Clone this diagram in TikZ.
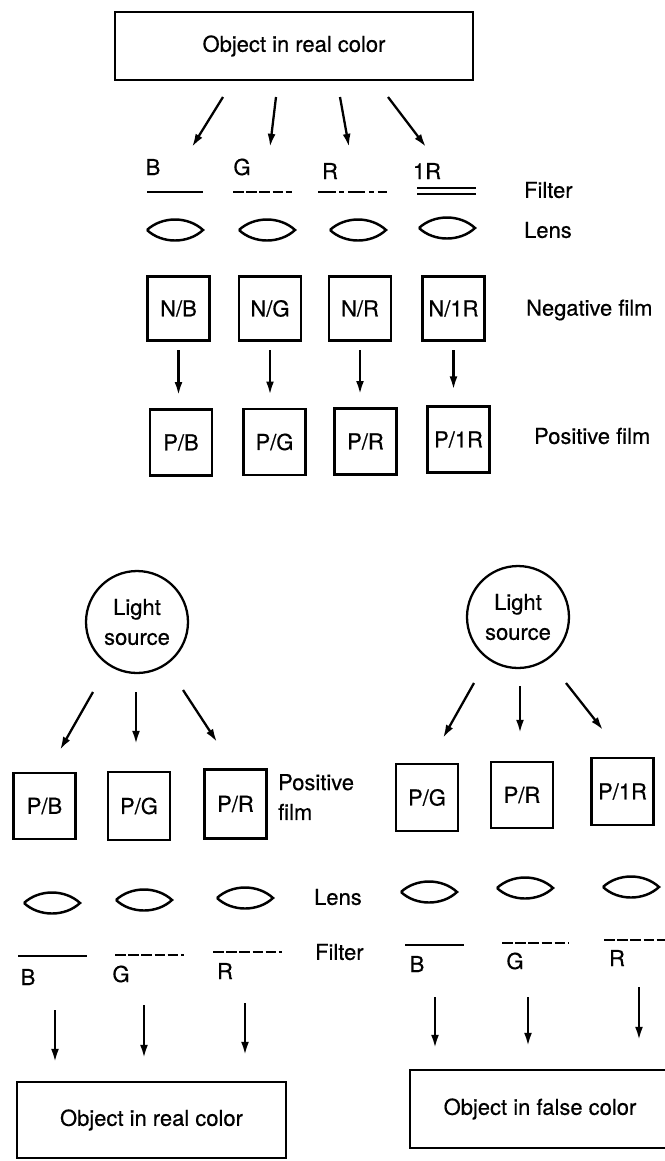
\documentclass[tikz,border=0pt]{standalone}
\usepackage{fontspec}
\setmainfont{TeX Gyre Heros}[FakeBold=0.5]
\usetikzlibrary{arrows.meta}
\def\lens(#1,#2){\draw[lensline] (#1-28,#2) .. controls (#1-13,#2-14) and (#1+13,#2-14) .. (#1+28,#2) .. controls (#1+13,#2+14) and (#1-13,#2+14) .. (#1-28,#2);}

\begin{document}
\begin{tikzpicture}[x=0.02cm, y=-0.02cm, line width=1.3pt,
	every node/.style={font=\fontsize{12.5}{17}\selectfont},
	arr/.style={-{Latex[length=7.5pt,width=4.5pt]}},
	film/.style={draw, minimum width=1.24cm, minimum height=1.28cm, inner sep=0pt},
	objbox/.style={draw, inner sep=0pt},
	lamp/.style={draw, circle, minimum size=2.04cm, inner sep=0pt, align=center},
	lensline/.style={line width=1.4pt},
	tag/.style={anchor=west, align=left, inner sep=0pt}]
		\useasboundingbox (0,0) rectangle (665,1161);
		%%%%% TAKING %%%%%
		\node[objbox, minimum width=7.16cm, minimum height=1.36cm] (objreal) at (294,46) {Object in real color};
		
		\coordinate (tB) at (223,97);  \coordinate (hB) at (192,147);
		\coordinate (tG) at (276,97);  \coordinate (hG) at (270,147);
		\coordinate (tR) at (340,97);  \coordinate (hR) at (349,147);
		\coordinate (tIR) at (388,97); \coordinate (hIR) at (426,147);
		\draw[arr] (tB) -- (hB);
		\draw[arr] (tG) -- (hG);
		\draw[arr] (tR) -- (hR);
		\draw[arr] (tIR) -- (hIR);
		
		\node (fB) at (153,167) {B};
		\node (fG) at (242,167) {G};
		\node (fR) at (330,171) {R};
		\node (fIR) at (427,171) {1R};
		
		\draw (147,192) -- (203,192);
		\draw[dash pattern=on 6pt off 1.5pt] (233,192) -- (292,192);
		\draw[dash pattern=on 10pt off 2pt on 3pt off 2pt] (318,192) -- (387,192);
		\draw[line width=1pt, double, double distance=2.8pt] (417,191) -- (476,191);
		
		\lens(175,230)
		\lens(267,230)
		\lens(358,230)
		\lens(447,228)
		
		\node[film] (NB) at (178.5,308.5) {N/B};
		\node[film] (NG) at (270,308.5) {N/G};
		\node[film] (NR) at (360,308.5) {N/R};
		\node[film] (NIR) at (453.5,308.5) {N/1R};
		
		\node[film, minimum height=1.32cm] (PB) at (181,442.5) {P/B};
		\node[film, minimum height=1.32cm] (PG) at (274.5,442) {P/G};
		\node[film, minimum height=1.32cm] (PR) at (365.5,441.5) {P/R};
		\node[film, minimum height=1.32cm] (PIR) at (458.5,439.5) {P/1R};
		
		\draw[arr, shorten <=5pt, shorten >=7.5pt] (NB.south) -- (NB.south |- PB.north);
		\draw[arr, shorten <=5pt, shorten >=7.5pt] (NG.south) -- (NG.south |- PG.north);
		\draw[arr, shorten <=5pt, shorten >=7.5pt] (NR.south) -- (NR.south |- PR.north);
		\draw[arr, shorten <=5pt, shorten >=9pt] (NIR.south) -- (NIR.south |- PIR.north);
		
		\node[tag] (filtT) at (523,190) {Filter};
		\node[tag] (lensT) at (523,230) {Lens};
		\node[tag] (negT) at (525,310) {Negative film};
		\node[tag] (posT) at (533,436) {Positive film};
		
		%%%%% REAL COLOR PROJECTION %%%%%
		\node[lamp] (lampL) at (137,622) {Light\\source};
		
		\coordinate (lsB) at (93,692);  \coordinate (leB) at (60,750);
		\coordinate (lsG) at (136,692); \coordinate (leG) at (136,744);
		\coordinate (lsR) at (183,690); \coordinate (leR) at (217,742);
		\draw[arr] (lsB) -- (leB);
		\draw[arr] (lsG) -- (leG);
		\draw[arr] (lsR) -- (leR);
		
		\node[film, minimum height=1.32cm] (PBl) at (44.5,806) {P/B};
		\node[film, minimum height=1.36cm] (PGl) at (139,806) {P/G};
		\node[film, minimum height=1.38cm] (PRl) at (235.5,804) {P/R};
		\node[tag] (posL) at (277,797) {Positive\\film};
		
		\lens(52,903)
		\lens(144,900)
		\lens(245,898)
		\node[tag] (lensL) at (313,897) {Lens};
		
		\draw (18,956) -- (87,956);
		\draw[dash pattern=on 6pt off 1.5pt] (115,955) -- (184,955);
		\draw[dash pattern=on 6pt off 1.5pt] (213,952) -- (282,952);
		\node[tag] (filtL) at (314,952) {Filter};
		
		\node (bBl) at (28,977) {B};
		\node (bGl) at (121,974) {G};
		\node (bRl) at (225,971) {R};
		
		\coordinate (osB) at (55,1010);  \coordinate (oeB) at (55,1062);
		\coordinate (osG) at (144,1005); \coordinate (oeG) at (144,1058);
		\coordinate (osR) at (245,1003); \coordinate (oeR) at (245,1055);
		\draw[arr] (osB) -- (oeB);
		\draw[arr] (osG) -- (oeG);
		\draw[arr] (osR) -- (oeR);
		
		\node[objbox, minimum width=5.38cm, minimum height=1.52cm] (objrealL) at (151.5,1120) {Object in real color};
		
		%%%%% FALSE COLOR PROJECTION %%%%%
		\node[lamp] (lampR) at (518,617) {Light\\source};
		
		\coordinate (rsG) at (474,683); \coordinate (reG) at (443,738);
		\coordinate (rsR) at (520,686); \coordinate (reR) at (520,733);
		\coordinate (rsIR) at (566,683); \coordinate (reIR) at (603,730);
		\draw[arr] (rsG) -- (reG);
		\draw[arr] (rsR) -- (reR);
		\draw[arr] (rsIR) -- (reIR);
		
		\node[film, minimum height=1.34cm] (PGr) at (427,797.5) {P/G};
		\node[film, minimum height=1.32cm] (PRr) at (522,795) {P/R};
		\node[film, minimum height=1.34cm] (PIRr) at (622.5,791.5) {P/1R};
		
		\lens(429,892)
		\lens(525,888)
		\lens(631,887)
		
		\draw (405,945) -- (464,945);
		\draw[dash pattern=on 6pt off 1.5pt] (502,943) -- (568,943);
		\draw[dash pattern=on 6pt off 1.5pt] (604,940) -- (665,940);
		
		\node (bBr) at (417,964) {B};
		\node (bGr) at (515,961) {G};
		\node (bRr) at (617,958) {R};
		
		\coordinate (qsB) at (435,997);  \coordinate (qeB) at (435,1048);
		\coordinate (qsG) at (528,997);  \coordinate (qeG) at (528,1046);
		\coordinate (qsR) at (639,987);  \coordinate (qeR) at (639,1040);
		\draw[arr] (qsB) -- (qeB);
		\draw[arr] (qsG) -- (qeG);
		\draw[arr] (qsR) -- (qeR);
		
		\node[objbox, minimum width=5.2cm, minimum height=1.56cm] (objfalse) at (540,1109) {Object in false color};
		%%%%% END %%%%%
\end{tikzpicture}
\end{document}
